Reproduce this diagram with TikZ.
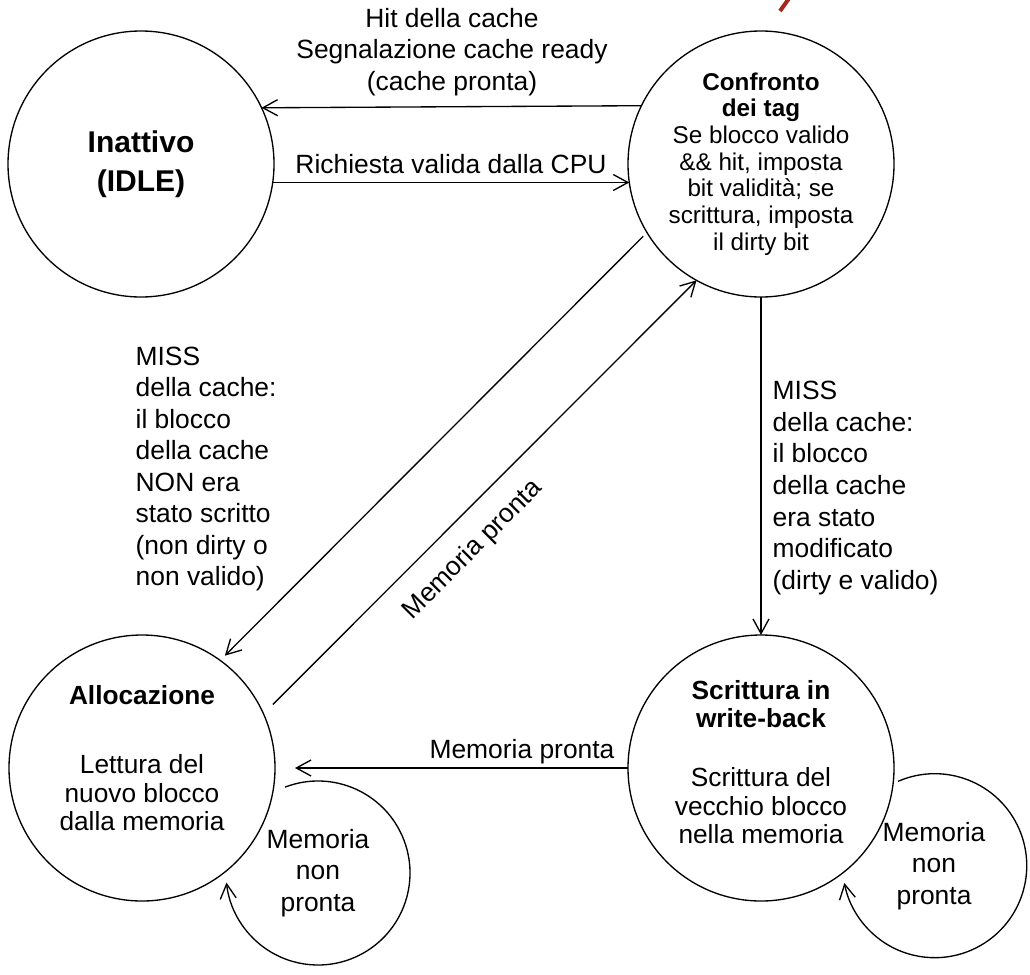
\documentclass[tikz,border=0pt]{standalone}
\usepackage{fontspec}
\setmainfont{Liberation Sans}
\usetikzlibrary{arrows.meta}
\definecolor{markred}{HTML}{A3281B}

\begin{document}
\begin{tikzpicture}[x=0.75pt,y=-0.75pt,line width=1pt,
    state/.style={draw,circle,minimum size=199.5pt,inner sep=0pt,outer sep=0pt,align=center},
    edge/.style={-{Straight Barb[length=11pt,width=12pt]}},
    lbl/.style={align=center,inner sep=0pt,font=\fontsize{19.8}{23.4}\selectfont},
    txt/.style={align=center,inner sep=0pt,font=\fontsize{19.7}{21.2}\selectfont},
    looplbl/.style={circle,minimum size=138pt,inner sep=0pt,outer sep=0pt,align=center,
      font=\fontsize{19.8}{23.4}\selectfont}]
  \useasboundingbox (0,0) rectangle (1030,974);
  \draw
    (141,164) node[state,font=\fontsize{22.5}{29}\selectfont] (idle) {\textbf{Inattivo}\\\textbf{(IDLE)}}
    (761,164) node[state,font=\fontsize{18.2}{20}\selectfont] (conf) {\textbf{Confronto}\\\textbf{dei tag}\\Se blocco valido\\\&\& hit, imposta\\bit validità; se\\scrittura, imposta\\il dirty bit}
    (142,768) node[state] (alloc) {}
    (761,768) node[state] (wb) {};
  \node[txt] (allocT) at ([yshift=7.5pt]alloc.center) {\textbf{Allocazione}\\[31pt]Lettura del\\nuovo blocco\\dalla memoria};
  \node[txt] (wbT) at ([yshift=4.5pt]wb.center) {\textbf{Scrittura in}\\\textbf{write-back}\\[23pt]Scrittura del\\vecchio blocco\\nella memoria};
  \node[looplbl] (allocL) at (318,873) {Memoria\\non\\pronta};
  \node[looplbl] (wbL) at (934,866) {Memoria\\non\\pronta};
  \node[lbl] (hitL) at (452,52) {Hit della cache\\Segnalazione cache ready\\(cache pronta)};
  \node[lbl] (cpuL) at (451,164) {Richiesta valida dalla CPU};
  \node[lbl,align=left,anchor=west,font=\fontsize{19.8}{23.6}\selectfont] (missL) at (135,469) {MISS\\della cache:\\il blocco\\della cache\\NON era\\stato scritto\\(non dirty o\\non valido)};
  \node[lbl,align=left,anchor=west,font=\fontsize{19.8}{23.8}\selectfont] (missR) at (772,488) {MISS\\della cache:\\il blocco\\della cache\\era stato\\modificato\\(dirty e valido)};
  \node[lbl,rotate=45] (memD) at (473,550) {Memoria pronta};
  \node[lbl] (memH) at (522,752) {Memoria pronta};
  \draw[edge] (conf.154.6) -- (idle.25.4);
  \draw[edge] (idle.-8.2) -- (conf.188.2);
  \draw[edge] (conf.south) -- (wb.north);
  \draw[edge,shorten >=15pt] (wb.west) -- (alloc.east);
  \draw[edge,shorten <=4pt,shorten >=5pt] (conf.211) -- (alloc.54);
  \draw[edge,shorten <=10pt] (alloc.24) -- (conf.241.5);
  \draw[edge] (allocL.111) arc[start angle=111,end angle=-174,radius=69pt];
  \draw[edge] (wbL.113.5) arc[start angle=113.5,end angle=-169.2,radius=69pt];
  \draw[markred,line width=3pt] (780,11) -- (790,-3);
\end{tikzpicture}
\end{document}
